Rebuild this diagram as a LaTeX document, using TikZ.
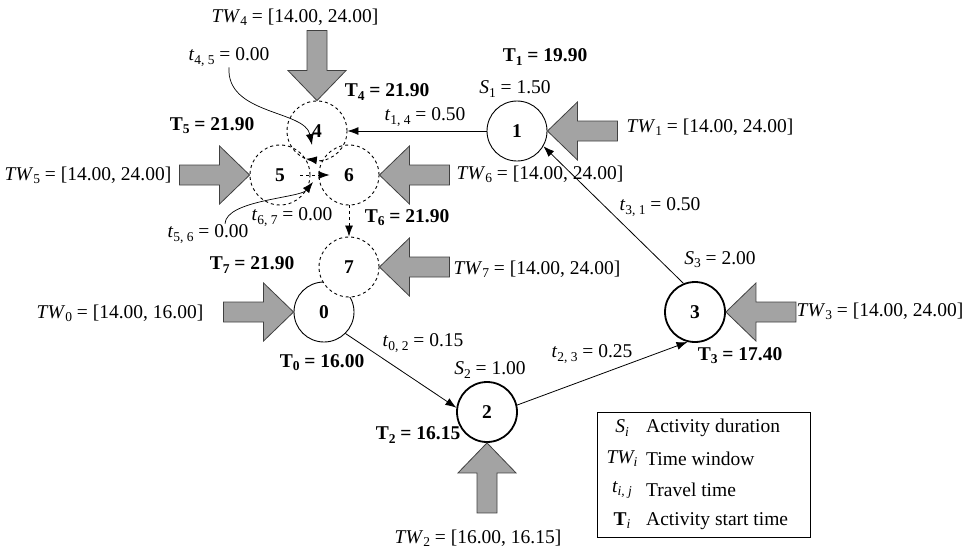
\documentclass[tikz,border=0pt]{standalone}
\usepackage{fontspec}
\setmainfont{Liberation Serif}
\usetikzlibrary{arrows.meta}
\newcommand{\lo}[1]{\raisebox{-0.35ex}{\fontsize{13.5}{14}\selectfont #1}}

\begin{document}
\begin{tikzpicture}[x=1pt, y=-1pt,
    every node/.style={font=\fontsize{19.5}{22}\selectfont, inner sep=1pt},
    act/.style={circle, draw, fill=white, line width=0.9pt, minimum size=60pt, inner sep=0pt, font=\fontsize{19.5}{22}\selectfont\bfseries},
    dep/.style={act, dashed},
    key/.style={act, line width=1.8pt},
    conn/.style={line width=0.8pt, -{Latex[length=11pt,width=8pt]}},
    dconn/.style={conn, dashed},
    lead/.style={line width=0.7pt, -{Latex[length=11pt,width=8pt]}},
    pics/twarrow/.style={code={
        \draw[fill=black!36, draw=black!75, line width=0.8pt]
            (0,0) -- (-30,29) -- (-30,10) -- (-70,10) -- (-70,-10) -- (-30,-10) -- (-30,-29) -- cycle;}}]
    \useasboundingbox (0,0) rectangle (965,550);

    % activities
    \node[act] (n0) at (324,312) {0};
    \node[dep] (n7) at (349,267) {7};
    \node[dep] (n5) at (280,175) {5};
    \node[dep] (n6) at (349,175) {6};
    \node[dep, fill=none] (n4) at (317,131) {4};
    \node[act] (n1) at (517,131) {1};
    \node[key] (n2) at (487,412) {2};
    \node[key] (n3) at (695,312) {3};

    % time windows
    \pic[rotate=-90] at (n4.north) {twarrow};
    \pic at (n5.west) {twarrow};
    \pic[rotate=180] at (n6.east) {twarrow};
    \pic[rotate=180] at (n1.east) {twarrow};
    \pic[rotate=180] at (n7.east) {twarrow};
    \pic at (n0.west) {twarrow};
    \pic[rotate=180] at (n3.east) {twarrow};
    \pic[rotate=90] at (n2.south) {twarrow};

    % travel
    \draw[conn] (n1.west) -- (n4.east);
    \draw[conn] (n3.112) -- (n1.-30);
    \draw[conn] (n0.-45) -- (n2.172);
    \draw[conn] (n2.13) -- (n3.-104);
    \draw[dconn] (n6.south) -- (n7.north);
    \draw[dconn, shorten <=-10pt, shorten >=-11pt] (n5.east) -- (n6.west);
    \draw[dconn] (n4.-80) -- (n5.32);

    % labels
    \node (tw4) at (295,17) {\textit{TW}\lo{4} = [14.00, 24.00]};
    \node (t45) at (229,57) {\textit{t}\lo{4, 5} = 0.00};
    \node (T4) at (387,92) {\textbf{T\lo{4} = 21.90}};
    \node (T1) at (545,57) {\textbf{T\lo{1} = 19.90}};
    \node (s1) at (515,89) {\textit{S}\lo{1} = 1.50};
    \node (t14) at (425,117) {\textit{t}\lo{1, 4} = 0.50};
    \node (T5) at (212,126) {\textbf{T\lo{5} = 21.90}};
    \node (tw1) at (710,127) {\textit{TW}\lo{1} = [14.00, 24.00]};
    \node (tw5) at (88,175) {\textit{TW}\lo{5} = [14.00, 24.00]};
    \node (tw6) at (540,174) {\textit{TW}\lo{6} = [14.00, 24.00]};
    \node (t67) at (292,217) {\textit{t}\lo{6, 7} = 0.00};
    \node (t56) at (208,234) {\textit{t}\lo{5, 6} = 0.00};
    \node (T6) at (407,218) {\textbf{T\lo{6} = 21.90}};
    \node (t31) at (660,207) {\textit{t}\lo{3, 1} = 0.50};
    \node (T7) at (252,265) {\textbf{T\lo{7} = 21.90}};
    \node (tw7) at (537,269) {\textit{TW}\lo{7} = [14.00, 24.00]};
    \node (s3) at (720,260) {\textit{S}\lo{3} = 2.00};
    \node (tw3) at (880,311) {\textit{TW}\lo{3} = [14.00, 24.00]};
    \node (tw0) at (120,313) {\textit{TW}\lo{0} = [14.00, 16.00]};
    \node (t02) at (423,343) {\textit{t}\lo{0, 2} = 0.15};
    \node (T0) at (322,363) {\textbf{T\lo{0} = 16.00}};
    \node (t23) at (592,354) {\textit{t}\lo{2, 3} = 0.25};
    \node (T3) at (740,356) {\textbf{T\lo{3} = 17.40}};
    \node (s2) at (490,370) {\textit{S}\lo{2} = 1.00};
    \node (T2) at (418,435) {\textbf{T\lo{2} = 16.15}};
    \node (tw2) at (478,538) {\textit{TW}\lo{2} = [16.00, 16.15]};

    \draw[lead] (t45.south) .. controls (226,115) and (305,110) .. (312,145);
    \draw[lead] ([xshift=17pt]t56.north) .. controls (226,200) and (300,198) .. (313,182);

    % legend
    \draw[line width=0.8pt] (597,412) rectangle (810,537);
    \node (ks) at (622,428) {\textit{S\lo{i}}};
    \node (ktw) at (622,459) {\textit{TW\lo{i}}};
    \node (kt) at (622,490) {\textit{t\lo{i, j}}};
    \node (kT) at (622,521) {\textbf{T}\lo{\textit{i}}};
    \node[anchor=west] at (645,428) {Activity duration};
    \node[anchor=west] at (645,459) {Time window};
    \node[anchor=west] at (645,490) {Travel time};
    \node[anchor=west] at (645,521) {Activity start time};
\end{tikzpicture}
\end{document}
